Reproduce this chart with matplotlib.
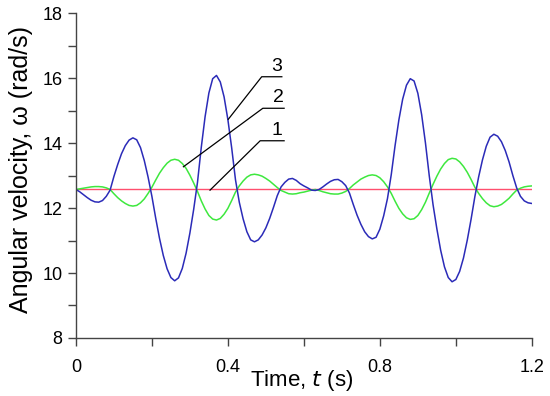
import numpy as np
import matplotlib.pyplot as plt

# time grid of read-off points (s)
t = np.round(np.arange(0, 121) * 0.01, 2)

# curve 1: constant angular velocity
t_const = [0.0, 1.2]
w_const = [12.57, 12.57]

# curve 2 (green), every 0.01 s
w_green = [
    12.57, 12.59, 12.61, 12.63, 12.65, 12.66, 12.66, 12.65, 12.62, 12.57,
    12.44, 12.32, 12.22, 12.14, 12.08, 12.06, 12.08, 12.16, 12.28, 12.45,
    12.64, 12.86, 13.07, 13.24, 13.38, 13.47, 13.50, 13.47, 13.37, 13.22,
    13.01, 12.77, 12.51, 12.22, 11.97, 11.77, 11.66, 11.63, 11.68, 11.81,
    11.99, 12.23, 12.49, 12.68, 12.83, 12.95, 13.02, 13.04, 13.02, 12.98,
    12.91, 12.83, 12.73, 12.63, 12.54, 12.49, 12.44, 12.43, 12.44, 12.47,
    12.49, 12.52, 12.55, 12.57, 12.54, 12.50, 12.47, 12.44, 12.43, 12.43,
    12.46, 12.51, 12.60, 12.71, 12.80, 12.89, 12.95, 13.00, 13.02, 13.00,
    12.93, 12.81, 12.65, 12.45, 12.21, 11.99, 11.82, 11.70, 11.65, 11.67,
    11.77, 11.95, 12.18, 12.46, 12.73, 12.98, 13.20, 13.37, 13.49, 13.53,
    13.51, 13.42, 13.28, 13.10, 12.88, 12.64, 12.45, 12.29, 12.16, 12.07,
    12.04, 12.06, 12.11, 12.20, 12.30, 12.43, 12.55, 12.61, 12.65, 12.67,
    12.68,
]

# curve 3 (blue)
w_blue = [
    12.57, 12.50, 12.41, 12.32, 12.24, 12.19, 12.18, 12.23, 12.36, 12.55,
    12.97, 13.34, 13.67, 13.92, 14.09, 14.16, 14.10, 13.86, 13.46, 12.95,
    12.36, 11.69, 11.07, 10.54, 10.13, 9.86, 9.76, 9.85, 10.14, 10.61,
    11.23, 11.96, 12.79, 13.87, 14.81, 15.54, 15.98, 16.08, 15.88, 15.42,
    14.72, 13.85, 12.87, 12.18, 11.67, 11.27, 11.02, 10.96, 11.02, 11.17,
    11.39, 11.68, 12.02, 12.38, 12.65, 12.79, 12.89, 12.91, 12.85, 12.75,
    12.68, 12.62, 12.55, 12.54, 12.57, 12.65, 12.74, 12.82, 12.87, 12.88,
    12.81, 12.69, 12.46, 12.11, 11.78, 11.50, 11.27, 11.12, 11.05, 11.10,
    11.35, 11.76, 12.29, 13.03, 13.92, 14.71, 15.35, 15.78, 15.98, 15.91,
    15.53, 14.87, 14.00, 12.99, 12.10, 11.36, 10.70, 10.19, 9.86, 9.73,
    9.80, 10.05, 10.46, 11.01, 11.65, 12.35, 12.96, 13.48, 13.90, 14.18,
    14.27, 14.21, 14.04, 13.77, 13.42, 13.00, 12.62, 12.36, 12.22, 12.16,
    12.14,
]

# leader lines for the curve numbers
labels = ["3", "2", "1"]
label_corner_t = [0.489, 0.492, 0.485]
label_corner_w = [16.04, 15.07, 14.07]
label_end_t = [0.542, 0.548, 0.548]
label_target_t = [0.401, 0.283, 0.353]
label_target_w = [14.73, 13.27, 12.55]

plt.rcParams['font.family'] = ['Liberation Sans', 'DejaVu Sans']

fig = plt.figure(figsize=(5.5, 3.96), dpi=100)
ax = fig.add_axes([0.138, 0.1465, 0.829, 0.8205])

ax.plot(t_const, w_const, color='#ff4f6e', lw=1.0)
ax.plot(t, w_green, color='#3ee83e', lw=1.1)
ax.plot(t, w_blue, color='#2b2bb8', lw=1.1)

for i, lab in enumerate(labels):
    ax.plot([label_target_t[i], label_corner_t[i], label_end_t[i]],
            [label_target_w[i], label_corner_w[i], label_corner_w[i]],
            color='black', lw=0.9)
    ax.text((label_corner_t[i] + label_end_t[i]) / 2 + 0.012, label_corner_w[i] + 0.06,
            lab, ha='center', va='bottom', fontsize=14)

ax.set_xlim(0, 1.2)
ax.set_ylim(8, 18)
ax.set_xticks([0, 0.4, 0.8, 1.2])
ax.set_xticklabels(['0', '0.4', '0.8', '1.2'])
ax.set_xticks([0.2, 0.6, 1.0], minor=True)
ax.set_yticks([8, 10, 12, 14, 16, 18])
ax.set_yticks([9, 11, 13, 15, 17], minor=True)

for s in ['top', 'right']:
    ax.spines[s].set_visible(False)
for s in ['left', 'bottom']:
    ax.spines[s].set_color('#444444')
    ax.spines[s].set_linewidth(1.0)

ax.tick_params(which='both', direction='out', length=6, width=1.0, color='#444444')
ax.tick_params(axis='both', labelsize=13)
ax.tick_params(axis='x', pad=9)

ax.set_xlabel('Time, $\\it{t}$ (s)', fontsize=16)
ax.xaxis.set_label_coords(0.496, -0.092)
ax.set_ylabel('Angular velocity, ω (rad/s)', fontsize=18)
ax.yaxis.set_label_coords(-0.095, 0.52)

fig.savefig('out.png', dpi=100)
